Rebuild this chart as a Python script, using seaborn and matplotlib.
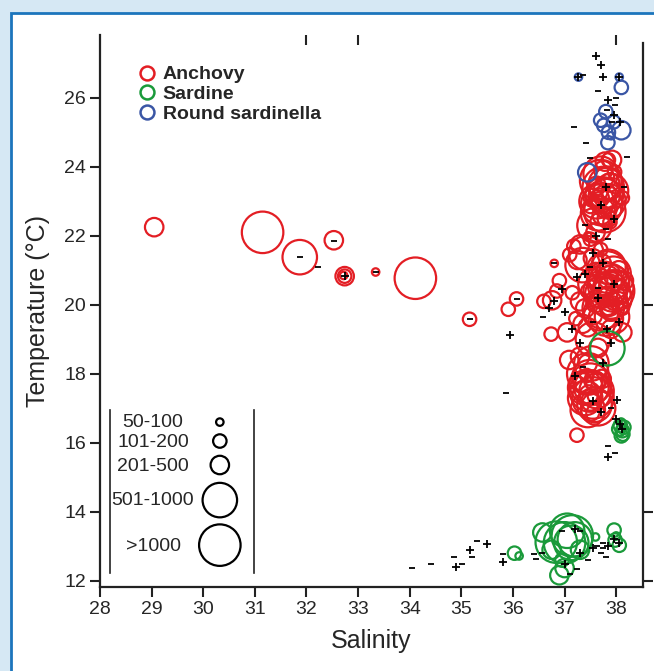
import matplotlib
matplotlib.use('Agg')
import matplotlib.pyplot as plt
import seaborn as sns
import pandas as pd
from matplotlib.lines import Line2D
from matplotlib.patches import Rectangle

# ---------------- data ----------------
size_classes = ['50-100', '101-200', '201-500', '501-1000', '>1000']

anchovy_sal = [
    37.75, 37.72, 37.80, 37.65, 37.88, 37.62, 37.92, 37.58, 38.12, 37.97, 37.78, 37.92, 37.85, 37.70, 37.82, 37.68, 37.90, 37.50, 37.60,
    37.70, 37.78, 37.85, 37.62, 37.75, 37.68, 37.88, 37.55,
    37.74, 37.80, 37.66, 37.84, 37.72, 37.78, 37.64, 37.86,
    37.30, 37.42, 37.55, 37.18, 37.50, 37.35, 37.60, 37.70, 37.25, 37.45, 37.72, 37.10,
    37.85, 37.90, 37.82, 37.75, 38.00, 37.70, 37.95, 37.80, 38.10, 37.60, 38.05, 37.65, 37.90, 38.12, 37.55,
    37.80, 37.95, 37.85, 37.70, 37.92, 37.60, 38.05, 37.78, 37.88, 38.15,
    37.88, 37.92, 37.84, 37.98, 37.76, 37.86, 37.94, 37.82, 37.90,
    37.30, 37.15, 37.40, 37.22, 37.35, 37.05, 37.45,
    37.55, 37.65, 38.12, 37.90, 37.45, 37.30, 37.09,
    37.50, 37.55, 37.45, 37.62, 37.40, 37.65, 37.52, 37.35, 37.72, 37.45, 37.60,
    37.50, 37.48, 37.58, 37.40, 37.60, 37.50, 37.45,
    37.52, 37.47, 37.56, 37.50, 37.43, 37.58,
    29.05, 31.15, 31.87, 32.53, 32.74, 32.74, 32.72, 33.34, 34.11, 35.16, 35.91, 36.07,
    36.80, 36.90, 36.60, 36.76, 36.74, 37.24, 36.85,
]
anchovy_temp = [
    23.40, 22.90, 23.15, 22.65, 23.55, 23.45, 22.75, 22.30, 23.10, 23.85, 24.15, 24.20, 24.20, 23.80, 22.50, 23.10, 23.30, 22.85, 22.10,
    23.60, 22.70, 23.00, 23.00, 23.90, 22.40, 22.40, 23.10,
    23.20, 23.50, 23.30, 22.80, 22.60, 23.70, 22.90, 23.25,
    21.75, 21.50, 21.35, 21.70, 21.90, 21.15, 20.95, 21.60, 21.30, 22.00, 21.20, 21.45,
    20.60, 20.20, 20.95, 19.90, 20.50, 20.40, 20.90, 19.60, 20.30, 20.05, 21.00, 20.70, 19.80, 19.90, 19.70,
    20.30, 20.40, 21.10, 19.75, 19.65, 20.60, 20.10, 20.75, 19.95, 20.70,
    20.45, 20.65, 20.25, 20.30, 20.55, 20.85, 20.05, 19.85, 20.80,
    20.10, 20.35, 19.90, 19.60, 19.45, 19.20, 20.40,
    19.00, 18.75, 19.20, 19.30, 19.35, 18.50, 18.40,
    17.70, 17.30, 18.00, 17.50, 17.30, 17.00, 18.30, 17.75, 17.85, 16.95, 16.85,
    17.50, 17.90, 17.10, 17.60, 17.75, 16.90, 18.30,
    17.60, 17.40, 17.80, 17.20, 17.95, 17.35,
    22.25, 22.10, 21.38, 21.87, 20.83, 20.83, 20.85, 20.95, 20.77, 19.58, 19.87, 20.17,
    21.20, 20.70, 20.10, 20.13, 19.15, 16.22, 20.40,
]
anchovy_cls = [
    '>1000', '>1000', '501-1000', '501-1000', '201-500', '201-500', '201-500', '501-1000', '101-200', '101-200', '201-500', '201-500', '101-200', '501-1000', '201-500', '201-500', '501-1000', '101-200', '201-500',
    '>1000', '>1000', '501-1000', '501-1000', '201-500', '201-500', '101-200', '201-500',
    '501-1000', '501-1000', '201-500', '201-500', '201-500', '201-500', '101-200', '101-200',
    '201-500', '501-1000', '201-500', '101-200', '101-200', '501-1000', '201-500', '101-200', '201-500', '50-100', '201-500', '101-200',
    '>1000', '>1000', '>1000', '>1000', '501-1000', '501-1000', '501-1000', '501-1000', '201-500', '201-500', '201-500', '201-500', '201-500', '101-200', '201-500',
    '>1000', '>1000', '501-1000', '501-1000', '501-1000', '501-1000', '201-500', '501-1000', '201-500', '201-500',
    '501-1000', '501-1000', '201-500', '201-500', '201-500', '201-500', '101-200', '101-200', '101-200',
    '201-500', '101-200', '201-500', '101-200', '201-500', '201-500', '101-200',
    '501-1000', '201-500', '201-500', '201-500', '201-500', '201-500', '201-500',
    '>1000', '>1000', '>1000', '501-1000', '501-1000', '501-1000', '501-1000', '201-500', '201-500', '501-1000', '201-500',
    '>1000', '501-1000', '501-1000', '501-1000', '201-500', '201-500', '201-500',
    '501-1000', '201-500', '201-500', '201-500', '101-200', '101-200',
    '201-500', '>1000', '501-1000', '201-500', '201-500', '101-200', '50-100', '50-100', '>1000', '101-200', '101-200', '101-200',
    '50-100', '101-200', '101-200', '201-500', '101-200', '101-200', '101-200',
]

sardine_sal = [
    37.83,
    38.08, 38.12, 38.10, 38.05, 38.15, 38.10, 38.08, 38.13,
    37.00, 36.84, 37.13, 37.20, 37.05, 36.57, 36.90, 37.00, 37.60, 36.75, 37.30, 37.15, 36.95,
    37.96, 37.98, 38.06, 38.00, 36.03, 36.12,
]
sardine_temp = [
    18.74,
    16.50, 16.35, 16.20, 16.40, 16.45, 16.60, 16.30, 16.25,
    13.10, 13.12, 13.10, 13.20, 13.45, 13.40, 12.16, 12.37, 13.27, 12.90, 12.90, 13.30, 12.60,
    13.47, 13.18, 13.03, 13.30, 12.80, 12.72,
]
sardine_cls = [
    '501-1000',
    '101-200', '101-200', '101-200', '101-200', '101-200', '50-100', '50-100', '101-200',
    '>1000', '>1000', '501-1000', '501-1000', '501-1000', '201-500', '201-500', '201-500', '50-100', '201-500', '201-500', '>1000', '101-200',
    '101-200', '101-200', '101-200', '50-100', '101-200', '50-100',
]

sardinella_sal = [37.27, 38.06, 38.10, 37.80, 37.76, 38.10, 37.84, 37.44, 37.70, 37.95, 37.85, 37.90]
sardinella_temp = [26.60, 26.60, 26.30, 25.60, 25.20, 25.06, 24.70, 23.84, 25.35, 25.30, 25.00, 24.90]
sardinella_cls = ['50-100', '50-100', '101-200', '101-200', '101-200', '201-500', '101-200', '201-500',
                  '101-200', '101-200', '101-200', '50-100']

plus_sal = [32.74, 35.95, 34.90, 35.16, 35.49, 35.80, 37.85, 38.02, 38.00, 37.27, 38.06, 37.61, 37.70, 37.75,
            37.95, 38.08, 37.85, 36.95, 37.00, 37.15, 37.30, 37.20, 37.40, 37.55, 37.75, 37.60, 37.70, 37.80,
            37.95, 37.65, 37.82, 37.90, 37.75, 37.55, 37.70, 37.20, 37.30, 37.00, 37.55, 37.85, 37.95, 38.05,
            38.12, 38.07, 36.80, 36.70, 37.25, 37.95, 38.05]
plus_temp = [20.83, 19.12, 12.39, 12.89, 13.06, 12.55, 15.58, 17.24, 16.70, 26.60, 26.60, 27.20, 26.95, 26.60,
             25.50, 25.30, 25.95, 20.45, 19.80, 19.30, 18.90, 17.95, 20.90, 21.50, 21.20, 22.00, 22.90, 23.40,
             22.50, 20.20, 19.30, 18.90, 18.30, 17.20, 16.90, 13.50, 12.80, 12.50, 12.95, 13.00, 13.20, 13.10,
             16.40, 16.55, 20.10, 19.90, 20.80, 20.60, 19.50]

dash_sal = [34.04, 34.42, 34.85, 35.02, 35.20, 35.30, 35.80, 36.41, 36.45, 36.57, 37.18, 37.42, 37.50, 38.21,
            37.98, 37.92, 36.59, 35.87, 37.85, 37.98, 38.15, 37.35, 37.65, 37.82, 38.00, 37.40, 37.50, 37.85,
            37.35, 37.90, 37.62, 37.70, 37.75, 37.80, 37.45, 37.10, 36.95, 37.30, 37.25, 37.75, 37.65, 37.55,
            37.80, 31.87, 32.22, 32.53, 33.34, 35.16, 36.07, 36.80]
dash_temp = [12.36, 12.48, 12.68, 12.48, 12.68, 13.15, 12.77, 12.77, 12.62, 12.80, 25.15, 24.70, 24.25, 24.27,
             25.80, 25.30, 19.65, 17.44, 15.90, 15.70, 23.40, 26.65, 26.20, 25.65, 26.00, 22.30, 21.10, 21.90,
             18.20, 17.00, 13.00, 12.80, 13.10, 12.70, 12.60, 12.20, 13.45, 13.45, 12.35, 12.95, 20.50, 19.50,
             22.20, 21.38, 21.09, 21.84, 20.95, 19.58, 20.17, 21.20]

species_names = ['Anchovy', 'Sardine', 'Round sardinella']
x_ticks = [28, 29, 30, 31, 32, 33, 34, 35, 36, 37, 38]
y_ticks = [12, 14, 16, 18, 20, 22, 24, 26]

# ---------------- style ----------------
size_area = dict(zip(size_classes, [29, 94, 177, 617, 893]))
species_colors = ['#e31e24', '#1a9a3a', '#3a56a5']
FIG_BG = '#d6e8f4'
BORDER = '#1c75bc'

sns.set_style('ticks')
plt.rcParams['font.family'] = ['Liberation Sans', 'DejaVu Sans']

fig = plt.figure(figsize=(6.54, 6.71), dpi=100, facecolor=FIG_BG)
fig.patches.append(Rectangle((11 / 654, -0.05), 1.2, 1.0306, transform=fig.transFigure,
                             facecolor='white', edgecolor=BORDER, linewidth=2, zorder=-10))
ax = fig.add_axes([100 / 654, 1 - 587 / 671, 543 / 654, 552 / 671])
ax.set_facecolor('none')

datasets = [
    (anchovy_sal, anchovy_temp, anchovy_cls),
    (sardine_sal, sardine_temp, sardine_cls),
    (sardinella_sal, sardinella_temp, sardinella_cls),
]
for (s, t, c), col in zip(datasets, species_colors):
    df = pd.DataFrame({'Salinity': s, 'Temperature': t, 'cls': c})
    sns.scatterplot(data=df, x='Salinity', y='Temperature', size='cls', sizes=size_area,
                    size_order=size_classes, color=col, facecolor='none', edgecolor=col,
                    linewidth=1.6, legend=False, ax=ax, zorder=3)

sns.scatterplot(x=plus_sal, y=plus_temp, marker='+', color='black', s=30, linewidth=1.3, ax=ax, zorder=4)
sns.scatterplot(x=dash_sal, y=dash_temp, marker='_', color='black', s=20, linewidth=1.3, ax=ax, zorder=4)

ax.set_xlim(28, 38.52)
ax.set_ylim(11.82, 27.82)
ax.set_xticks(x_ticks)
ax.set_yticks(y_ticks)
ax.tick_params(axis='both', labelsize=14, length=7, width=1.5, color='#222222', pad=3)
ax.set_xlabel('Salinity', fontsize=18, labelpad=8)
ax.set_ylabel('Temperature (°C)', fontsize=18, labelpad=10)
for side in ['left', 'bottom', 'right']:
    ax.spines[side].set_linewidth(1.6)
    ax.spines[side].set_color('#222222')
ax.spines['top'].set_visible(False)
ax.spines['right'].set_bounds(11.82, 27.59)

top = ax.secondary_xaxis('top')
top.set_xticks([32, 33, 38])
top.set_xticklabels([])
top.tick_params(direction='in', length=7, width=1.5, color='#222222')
top.spines['top'].set_visible(False)

right = ax.secondary_yaxis('right')
right.set_yticks([12, 14, 18, 20])
right.set_yticklabels([])
right.tick_params(direction='out', length=7, width=1.5, color='#222222')
right.spines['right'].set_visible(False)

# species legend
handles = [Line2D([], [], marker='o', linestyle='', markerfacecolor='none', markeredgecolor=c,
                  markeredgewidth=1.8, markersize=10) for c in species_colors]
leg = ax.legend(handles, species_names, loc='upper left', bbox_to_anchor=(0.051, 0.962),
                frameon=False, borderpad=0, handlelength=1.0, handletextpad=0.3,
                labelspacing=0.12, prop={'size': 14, 'weight': 'bold'})

# size legend (inset)
lax = ax.inset_axes([28.19, 12.22, 2.79, 4.73], transform=ax.transData)
leg_circle_y = [0.926, 0.81, 0.663, 0.448, 0.172]
leg_text_y = [0.926, 0.80, 0.655, 0.448, 0.165]
ldf = pd.DataFrame({'x': [0.764] * 5, 'y': leg_circle_y, 'cls': size_classes})
sns.scatterplot(data=ldf, x='x', y='y', size='cls', sizes=size_area, size_order=size_classes,
                color='black', facecolor='none', edgecolor='black', linewidth=1.6,
                legend=False, ax=lax)
for ty, lab in zip(leg_text_y, size_classes):
    lax.text(0.30, ty, lab, ha='center', va='center', fontsize=14)
lax.set_xlim(0, 1)
lax.set_ylim(0, 1)
lax.set_xticks([])
lax.set_yticks([])
lax.set_xlabel('')
lax.set_ylabel('')
lax.set_facecolor('none')
for side in ['top', 'bottom']:
    lax.spines[side].set_visible(False)
for side in ['left', 'right']:
    lax.spines[side].set_linewidth(1.2)
    lax.spines[side].set_color('#222222')

fig.savefig('out.png', dpi=100, facecolor=FIG_BG)
